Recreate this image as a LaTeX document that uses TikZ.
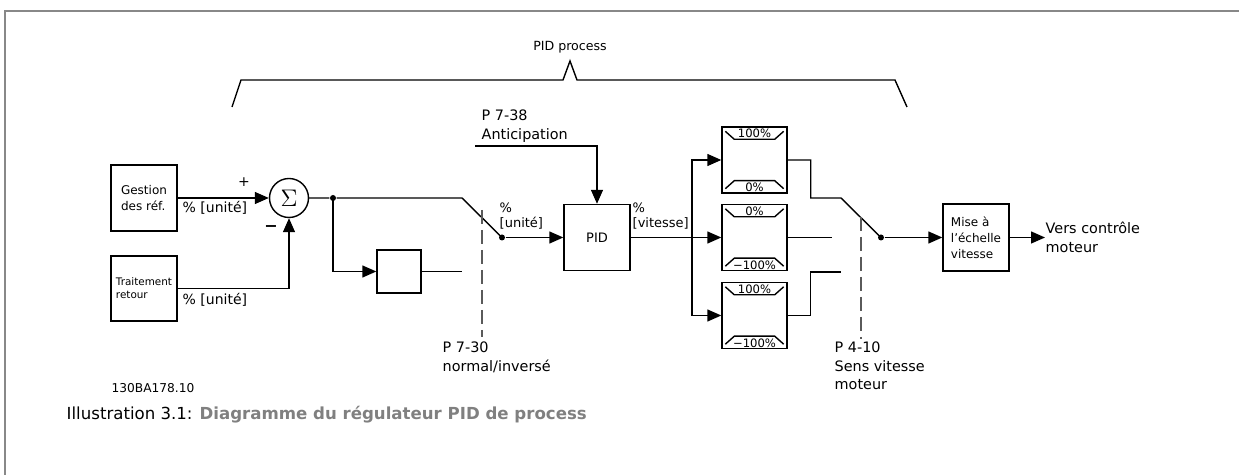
\documentclass[tikz,border=0pt]{standalone}
\usepackage{fontspec}
\setmainfont{DejaVu Sans}
\usepackage{xcolor}
\usetikzlibrary{
  arrows.meta,
  calc,
  positioning
}
\definecolor{framegray}{RGB}{136,136,136}
\definecolor{capgray}{RGB}{128,128,128}
\definecolor{dashgray}{RGB}{90,90,90}
\tikzset{
  blk/.style={draw,rectangle,inner sep=1pt,align=left,
    minimum width=33pt,minimum height=33pt,font=\fontsize{6}{8}\selectfont},
  lbl/.style={inner sep=0pt,align=left,font=\fontsize{7.2}{9.4}\selectfont},
  pct/.style={inner sep=0pt,font=\fontsize{5.8}{6}\selectfont},
  sig/.style={-{Triangle[length=7pt,width=6pt]}},
  dot/.style={circle,fill,inner sep=0pt,minimum size=3pt},
  sel/.style={dashgray,dash pattern=on 7pt off 3pt,line width=0.6pt}
}

\begin{document}
\begin{tikzpicture}[x=0.5pt,y=-0.5pt,line width=0.7pt]
            \useasboundingbox (0,0) rectangle (1239,475);
            \draw[framegray,line width=1pt] (5,475) -- (5,11) -- (1239,11);

            % accolade
            \node[lbl,font=\fontsize{6.3}{8}\selectfont] (proc) at (570,47) {PID process};
            \draw (232,107) -- (241,80) -- (563,80) -- (570,61) -- (577,80)
            -- (895,80) -- (907,107);

            \node[blk] (gestion) at (144,198) {Gestion\\des réf.};
            \node[blk,minimum height=32.5pt,font=\fontsize{5.2}{6.6}\selectfont]
            (retour) at (144,288.5) {Traitement\\retour};
            \node[draw,circle,inner sep=0pt,minimum size=19.5pt,
            font=\fontsize{12}{12}\selectfont] (sum) at (289,198) {$\Sigma$};
            \node[lbl,font=\fontsize{7}{7}\selectfont] (plus) at (244,182) {+};
            \node[lbl,font=\bfseries\fontsize{8}{8}\selectfont] (minus) at (271,229) {−};
            \node[lbl,anchor=west,font=\fontsize{7}{8}\selectfont] (uref) at (182,208) {\% [unité]};
            \node[lbl,anchor=west,font=\fontsize{7}{8}\selectfont] (uret) at (182,300) {\% [unité]};

            \draw[sig] (gestion.east) -- (sum.west);
            \draw[sig] (retour.east) -| (sum.south);

            \node[dot] (j1) at (333,198) {};
            \node[blk,minimum width=22pt,minimum height=21.5pt] (inv) at (399,271.5) {};
            \node[dot] (sw1) at (502,237.5) {};
            \coordinate (sw1a) at (462,198);
            \coordinate (sw1b) at (462,271.5);
            \draw (sum.east) -- (j1) -- (sw1a) -- (sw1.center);
            \draw[sig] (j1.center) |- (inv.west);
            \draw (inv.east) -- (sw1b);

            \coordinate (d1a) at (482,210);
            \coordinate (d1b) at (482,337);
            \draw[sel] (d1a) -- (d1b);
            \node[lbl,anchor=north west] (p730) at (442,341) {P 7-30\\normal/inversé};

            \node[blk,font=\fontsize{6.5}{8}\selectfont] (pid) at (597,237.5) {PID};
            \node[lbl,anchor=west,font=\fontsize{6.5}{7.8}\selectfont] (upid) at (499,216) {\%\\{}[unité]};
            \node[lbl,anchor=west,font=\fontsize{6.5}{7.8}\selectfont] (vpid) at (632,216) {\%\\{}[vitesse]};
            \draw[sig] (sw1) -- (pid.west);

            \node[lbl,anchor=south west] (p738) at (481,143) {P 7-38\\Anticipation};
            \coordinate (ant) at (475,146);
            \draw[sig] (ant) -| (pid.north);

            % limiteurs
            \node[blk,minimum width=32.5pt] (lima) at (754.5,160) {};
            \node[blk,minimum width=32.5pt] (limb) at (754.5,237.5) {};
            \node[blk,minimum width=32.5pt] (limc) at (754.5,315.5) {};
            \coordinate (bus) at (692,237.5);
            \draw (pid.east) -- (bus);
            \draw[sig] (bus) |- (lima.west);
            \draw[sig] (bus) -- (limb.west);
            \draw[sig] (bus) |- (limc.west);

            \draw ($(lima.north west)+(4,5)$) -- ++(9,8) -- ($(lima.north east)+(-13,13)$) -- ++(9,-8);
            \draw ($(lima.south west)+(4,-5)$) -- ++(9,-8) -- ($(lima.south east)+(-13,-13)$) -- ++(9,8);
            \node[pct] (la1) at ($(lima.north)+(0,7)$) {100\%};
            \node[pct] (la2) at ($(lima.south)+(0,-6)$) {0\%};
            \draw ($(limb.north west)+(4,5)$) -- ++(9,8) -- ($(limb.north east)+(-13,13)$) -- ++(9,-8);
            \draw ($(limb.south west)+(4,-5)$) -- ++(9,-8) -- ($(limb.south east)+(-13,-13)$) -- ++(9,8);
            \node[pct] (lb1) at ($(limb.north)+(0,7)$) {0\%};
            \node[pct] (lb2) at ($(limb.south)+(0,-6)$) {−100\%};
            \draw ($(limc.north west)+(4,5)$) -- ++(9,8) -- ($(limc.north east)+(-13,13)$) -- ++(9,-8);
            \draw ($(limc.south west)+(4,-5)$) -- ++(9,-8) -- ($(limc.south east)+(-13,-13)$) -- ++(9,8);
            \node[pct] (lc1) at ($(limc.north)+(0,7)$) {100\%};
            \node[pct] (lc2) at ($(limc.south)+(0,-6)$) {−100\%};

            \node[dot] (sw2) at (881,237.5) {};
            \coordinate (sw2a) at (841,198);
            \coordinate (sw2b) at (832,237.5);
            \coordinate (sw2c) at (841,272);
            \draw (lima.east) -- ++(23,0) |- (sw2a) -- (sw2.center);
            \draw (limb.east) -- (sw2b);
            \draw (limc.east) -- ++(23,0) |- (sw2c);

            \coordinate (d2a) at (861,217);
            \coordinate (d2b) at (861,339);
            \draw[sel] (d2a) -- (d2b);
            \node[lbl,anchor=north west] (p410) at (834,341) {P 4-10\\Sens vitesse\\moteur};

            \node[blk,minimum height=33.5pt] (mise) at (976,237.5) {Mise à\\l'échelle\\vitesse};
            \draw[sig] (sw2) -- (mise.west);
            \node[lbl,anchor=west] (vers) at (1045,237.5) {Vers contrôle\\moteur};
            \draw[sig] (mise.east) -- (vers.west);

            \node[lbl,anchor=west,font=\fontsize{6.1}{8}\selectfont] (code) at (111,388) {130BA178.10};
            \node[lbl,anchor=west,font=\fontsize{8.3}{10}\selectfont] (cap) at (66,415)
            {Illustration 3.1: \textcolor{capgray}{\textbf{Diagramme du régulateur PID de process}}};
          \end{tikzpicture}
\end{document}
